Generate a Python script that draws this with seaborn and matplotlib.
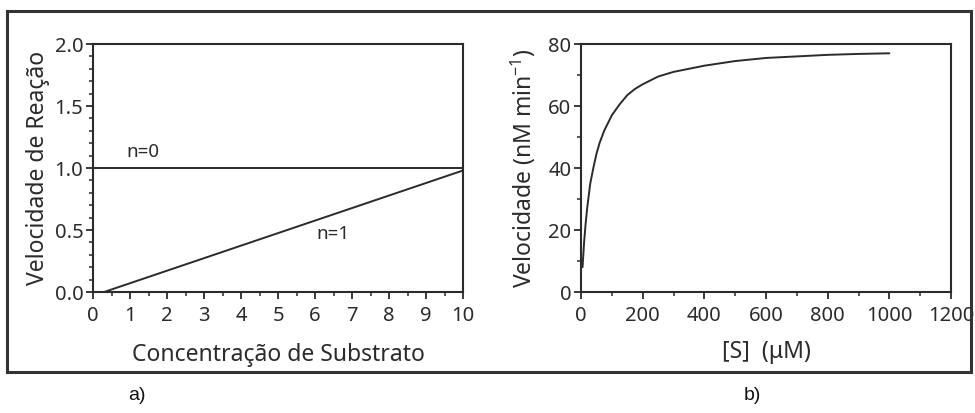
import numpy as np
import pandas as pd
import matplotlib.pyplot as plt
import matplotlib.patches as mpatches
from matplotlib.ticker import MultipleLocator
import seaborn as sns

sns.set_style("ticks")
plt.rcParams['font.family'] = ['Noto Sans', 'DejaVu Sans']
plt.rcParams['mathtext.default'] = 'regular'

ink = "#2b2b2b"

# a) reaction order lines
conc_n0 = [0, 10]
vel_n0 = [1.0, 1.0]
conc_n1 = [0.3, 10]
vel_n1 = [0.0, 0.98]

# b) Michaelis-Menten curve
s_uM = [5, 10, 15, 20, 30, 40, 50, 60, 75, 100, 125, 150, 175, 200, 250,
        300, 400, 500, 600, 700, 800, 900, 1000]
v_nM = [8, 16, 22, 27, 35, 40, 44.5, 48, 52, 57, 60.5, 63.5, 65.5, 67, 69.5,
        71, 73, 74.5, 75.5, 76, 76.5, 76.8, 77]

fig = plt.figure(figsize=(9.75, 4.13), dpi=100)

# outer frame around both panels
fig.patches.append(mpatches.Rectangle((7 / 975, 1 - 372 / 413), 964 / 975, 361 / 413,
                                      transform=fig.transFigure, fill=False,
                                      edgecolor="#333333", linewidth=2.2))

ax1 = fig.add_axes([93 / 975, 1 - 292 / 413, 370 / 975, 248 / 413])
ax2 = fig.add_axes([581 / 975, 1 - 292 / 413, 370 / 975, 248 / 413])

sns.lineplot(x=conc_n0, y=vel_n0, ax=ax1, color=ink, linewidth=1.4)
sns.lineplot(x=conc_n1, y=vel_n1, ax=ax1, color=ink, linewidth=1.4)
ax1.text(1.35, 1.13, "n=0", ha="center", va="center", fontsize=13.5, color=ink)
ax1.text(6.5, 0.47, "n=1", ha="center", va="center", fontsize=13.5, color=ink)
ax1.set_xlim(0, 10)
ax1.set_ylim(0, 2.0)
ax1.xaxis.set_major_locator(MultipleLocator(1))
ax1.xaxis.set_minor_locator(MultipleLocator(0.5))
ax1.yaxis.set_major_locator(MultipleLocator(0.5))
ax1.yaxis.set_minor_locator(MultipleLocator(0.1))
ax1.set_yticklabels([f"{v:.1f}" for v in ax1.get_yticks()])
ax1.set_xlabel("Concentração de Substrato", fontsize=16.5, color=ink, labelpad=12)
ax1.set_ylabel("Velocidade de Reação", fontsize=16.5, color=ink, labelpad=3)

sns.lineplot(x=s_uM, y=v_nM, ax=ax2, color=ink, linewidth=1.4)
ax2.set_xlim(0, 1200)
ax2.set_ylim(0, 80)
ax2.xaxis.set_major_locator(MultipleLocator(200))
ax2.xaxis.set_minor_locator(MultipleLocator(100))
ax2.yaxis.set_major_locator(MultipleLocator(20))
ax2.yaxis.set_minor_locator(MultipleLocator(10))
ax2.set_xlabel("[S]  (μM)", fontsize=16.5, color=ink, labelpad=10)
ax2.set_ylabel("Velocidade (nM min$^{-1}$)", fontsize=16.5, color=ink, labelpad=7)

for ax in (ax1, ax2):
    for sp in ax.spines.values():
        sp.set_visible(True)
        sp.set_color(ink)
        sp.set_linewidth(1.5)
    ax.tick_params(which="major", direction="out", length=5, width=1.3,
                   labelsize=14.5, colors=ink, pad=2)
    ax.tick_params(which="minor", direction="out", length=3, width=1.1, colors=ink)
    ax.tick_params(axis="x", which="major", pad=5)

fig.text(137 / 975, 1 - 395 / 413, "a)", ha="center", va="center", fontsize=14,
         family="Liberation Sans", color="#111111")
fig.text(752 / 975, 1 - 395 / 413, "b)", ha="center", va="center", fontsize=14,
         family="Liberation Sans", color="#111111")

fig.savefig("out.png", dpi=100)
